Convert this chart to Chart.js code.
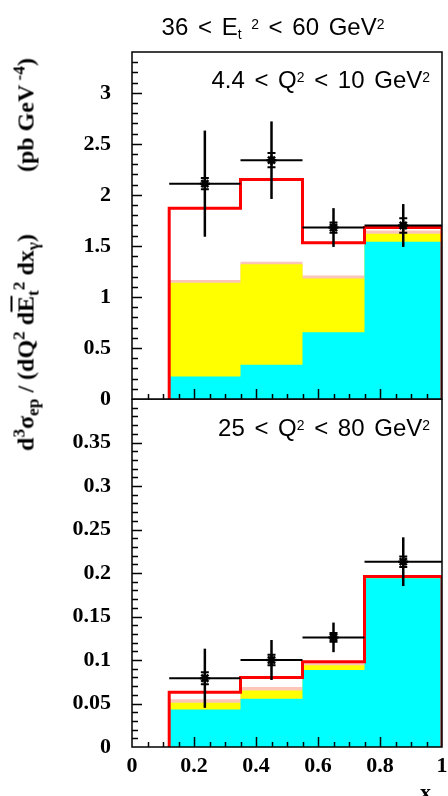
<!DOCTYPE html>
<html>
<head>
<meta charset="utf-8">
<script src="https://cdn.jsdelivr.net/npm/chart.js@4/dist/chart.umd.min.js"></script>
<style>
body { margin: 0; background: #fff; width: 448px; height: 796px; overflow: hidden; position: relative; }
#topWrap { position: absolute; left: 0; top: 0; width: 448px; height: 420px; }
#botWrap { position: absolute; left: 0; top: 399px; width: 448px; height: 397px; }
.lbl { position: absolute; font-family: "Liberation Sans", sans-serif; font-size: 24px; line-height: 1; word-spacing: 3px; white-space: nowrap; color: #000; }
.lbl .up { position: relative; top: -0.45em; font-size: 0.58em; }
.lbl .dn { position: relative; top: 0.3em; font-size: 0.58em; }
#ytitle { position: absolute; left: -223px; top: 239px; width: 500px; text-align: center; transform: rotate(-90deg);
  font-family: "Liberation Serif", serif; font-weight: bold; font-size: 24px; line-height: 28px; white-space: nowrap; color: #000; }
#ytitle .up { position: relative; top: -0.5em; font-size: 0.72em; }
#ytitle .dn { position: relative; top: 0.3em; font-size: 0.72em; }
#ytitle .ov { text-decoration: overline; }
#xtitle { position: absolute; left: 420px; top: 781px; font-family: "Liberation Serif", serif; font-weight: bold; font-size: 22px; line-height: 1; }
#xtitle .dn { position: relative; top: 0.3em; font-size: 0.7em; }
</style>
</head>
<body>
<div id="topWrap"><canvas id="topChart" width="448" height="420"></canvas></div>
<div id="botWrap"><canvas id="botChart" width="448" height="397"></canvas></div>

<div class="lbl" style="left:273px;top:15px;transform:translateX(-50%)">36 &lt; E<span class="dn">t</span> <span class="up">2</span> &lt; 60 GeV<span class="up">2</span></div>
<div class="lbl" style="right:18px;top:68px">4.4 &lt; Q<span class="up">2</span> &lt; 10 GeV<span class="up">2</span></div>
<div class="lbl" style="right:18px;top:416px">25 &lt; Q<span class="up">2</span> &lt; 80 GeV<span class="up">2</span></div>
<div id="ytitle">d<span class="up">3</span>&sigma;<span class="dn">ep</span> / (dQ<span class="up">2</span> d<span class="ov">E</span><span class="dn">t</span><span class="up">2</span> dx<span class="dn">&gamma;</span>)<span style="display:inline-block;width:62px"></span>(pb GeV<span class="up"> -4</span>)</div>
<div id="xtitle">x<span class="dn">&gamma;</span></div>

<script>
// bin edges in x_gamma and data point positions
const edges = [0.12, 0.35, 0.55, 0.75, 1.0];
const centers = [0.235, 0.45, 0.65, 0.875];

// 4.4 < Q2 < 10 GeV2
const topTotal = [1.87, 2.15, 1.53, 1.68];
const topPink = [1.165, 1.345, 1.21, 1.65];
const topYellow = [1.14, 1.32, 1.18, 1.62];
const topCyan = [0.22, 0.335, 0.655, 1.54];
const topData = [2.11, 2.34, 1.68, 1.70];
const topErr = [0.52, 0.38, 0.19, 0.21];
const topStat = [0.055, 0.07, 0.05, 0.07];

// 25 < Q2 < 80 GeV2
const botTotal = [0.063, 0.080, 0.098, 0.196];
const botPink = [0.055, 0.069, 0.0965, 0.195];
const botYellow = [0.051, 0.065, 0.094, 0.1945];
const botCyan = [0.043, 0.0555, 0.0885, 0.194];
const botData = [0.079, 0.100, 0.126, 0.213];
const botErr = [0.034, 0.023, 0.017, 0.028];
const botStat = [0.007, 0.006, 0.005, 0.006];

const tickFont = { family: "Liberation Serif", weight: "bold", size: 22 };

function stepPoints(vals) {
    let pts = [{ x: edges[0], y: 0 }];
    vals.forEach((v, i) => pts.push({ x: edges[i], y: v }));
    pts.push({ x: edges[edges.length - 1], y: vals[vals.length - 1] });
    pts.push({ x: edges[edges.length - 1], y: 0 });
    return pts;
}

function histSets(total, pink, yellow, cyan, data) {
    return [
        { type: 'scatter', data: data.map((v, i) => ({ x: centers[i], y: v })), pointStyle: 'star',
          pointRadius: 5, borderColor: '#000', borderWidth: 2.5, backgroundColor: '#000', order: 0 },
        { data: stepPoints(total), stepped: 'before', borderColor: '#ff0000', borderWidth: 3,
          pointRadius: 0, fill: false, order: 1 },
        { data: stepPoints(cyan), stepped: 'before', borderWidth: 0, borderColor: 'rgba(0,0,0,0)',
          backgroundColor: '#00ffff', pointRadius: 0, fill: 'origin', order: 2 },
        { data: stepPoints(yellow), stepped: 'before', borderWidth: 0, borderColor: 'rgba(0,0,0,0)',
          backgroundColor: '#ffff00', pointRadius: 0, fill: 'origin', order: 3 },
        { data: stepPoints(pink), stepped: 'before', borderWidth: 0, borderColor: 'rgba(0,0,0,0)',
          backgroundColor: '#fbc6b8', pointRadius: 0, fill: 'origin', order: 4 }
    ];
}

// inward tick marks + frame
const axisTicks = {
    id: 'axisTicks',
    afterDatasetsDraw(chart, args, o) {
        const { ctx, chartArea: a, scales: { x, y } } = chart;
        ctx.save();
        ctx.strokeStyle = '#000';
        ctx.lineWidth = 1.5;
        ctx.beginPath();
        let n = Math.round((y.max - y.min) / o.yMinor);
        for (let i = 1; i < n; i++) {
            let v = i * o.yMinor;
            let r = v / o.yMajor;
            let major = Math.abs(r - Math.round(r)) < 1e-6;
            let py = Math.round(y.getPixelForValue(v)) + 0.5;
            ctx.moveTo(a.left, py);
            ctx.lineTo(a.left + (major ? 10 : 6), py);
        }
        n = Math.round((x.max - x.min) / 0.05);
        for (let i = 1; i < n; i++) {
            let v = i * 0.05;
            let r = v / 0.2;
            let major = Math.abs(r - Math.round(r)) < 1e-6;
            let px = Math.round(x.getPixelForValue(v)) + 0.5;
            ctx.moveTo(px, a.bottom);
            ctx.lineTo(px, a.bottom - (major ? 10 : 5));
        }
        ctx.stroke();
        ctx.strokeRect(a.left, a.top, a.right - a.left, a.bottom - a.top);
        ctx.restore();
    }
};

// data error bars: bin width horizontally, total error vertically, small caps for stat error
const errorBars = {
    id: 'errorBars',
    afterDatasetsDraw(chart, args, o) {
        const { ctx, scales: { x, y } } = chart;
        ctx.save();
        ctx.strokeStyle = '#000';
        o.values.forEach((v, i) => {
            let py = y.getPixelForValue(v);
            let px = x.getPixelForValue(centers[i]);
            ctx.lineWidth = 2;
            ctx.beginPath();
            ctx.moveTo(x.getPixelForValue(edges[i]), py);
            ctx.lineTo(x.getPixelForValue(edges[i + 1]), py);
            ctx.stroke();
            ctx.lineWidth = 2.5;
            ctx.beginPath();
            ctx.moveTo(px, y.getPixelForValue(v + o.err[i]));
            ctx.lineTo(px, y.getPixelForValue(v - o.err[i]));
            ctx.stroke();
            ctx.lineWidth = 2;
            ctx.beginPath();
            [v + o.stat[i], v - o.stat[i]].forEach(s => {
                let sy = y.getPixelForValue(s);
                ctx.moveTo(px - 4, sy);
                ctx.lineTo(px + 4, sy);
            });
            ctx.stroke();
        });
        ctx.restore();
    }
};

function fmt(v) {
    return String(Math.round(v * 100) / 100);
}

function yScale(max, step, lastLabel) {
    return {
        min: 0, max: max,
        grid: { display: false, drawTicks: false },
        border: { display: false },
        ticks: { stepSize: step, includeBounds: false, padding: 21, color: '#000', font: tickFont, callback: fmt },
        afterBuildTicks(s) { s.ticks = s.ticks.filter(t => t.value <= lastLabel + 1e-6); },
        afterFit(s) { s.width = 132; s.paddingTop = 0; s.paddingBottom = 0; }
    };
}

new Chart(document.getElementById('topChart'), {
    type: 'line',
    data: { datasets: histSets(topTotal, topPink, topYellow, topCyan, topData) },
    plugins: [axisTicks, errorBars],
    options: {
        responsive: false, animation: false, devicePixelRatio: 1,
        layout: { autoPadding: false, padding: { top: 52, right: 6, bottom: 21, left: 0 } },
        plugins: {
            legend: { display: false }, tooltip: { enabled: false },
            axisTicks: { yMinor: 0.1, yMajor: 0.5 },
            errorBars: { values: topData, err: topErr, stat: topStat }
        },
        scales: {
            x: { type: 'linear', min: 0, max: 1, display: false },
            y: yScale(3.4, 0.5, 3)
        }
    }
});

new Chart(document.getElementById('botChart'), {
    type: 'line',
    data: { datasets: histSets(botTotal, botPink, botYellow, botCyan, botData) },
    plugins: [axisTicks, errorBars],
    options: {
        responsive: false, animation: false, devicePixelRatio: 1,
        layout: { autoPadding: false, padding: { top: 0, right: 6, bottom: 0, left: 0 } },
        plugins: {
            legend: { display: false }, tooltip: { enabled: false },
            axisTicks: { yMinor: 0.01, yMajor: 0.05 },
            errorBars: { values: botData, err: botErr, stat: botStat }
        },
        scales: {
            x: {
                type: 'linear', min: 0, max: 1,
                grid: { display: false, drawTicks: false },
                border: { display: false },
                ticks: { stepSize: 0.2, padding: 6, color: '#000', font: tickFont, callback: fmt, maxRotation: 0 },
                afterFit(s) { s.height = 49; s.paddingLeft = 0; s.paddingRight = 0; }
            },
            y: yScale(0.4, 0.05, 0.35)
        }
    }
});
</script>
</body>
</html>
